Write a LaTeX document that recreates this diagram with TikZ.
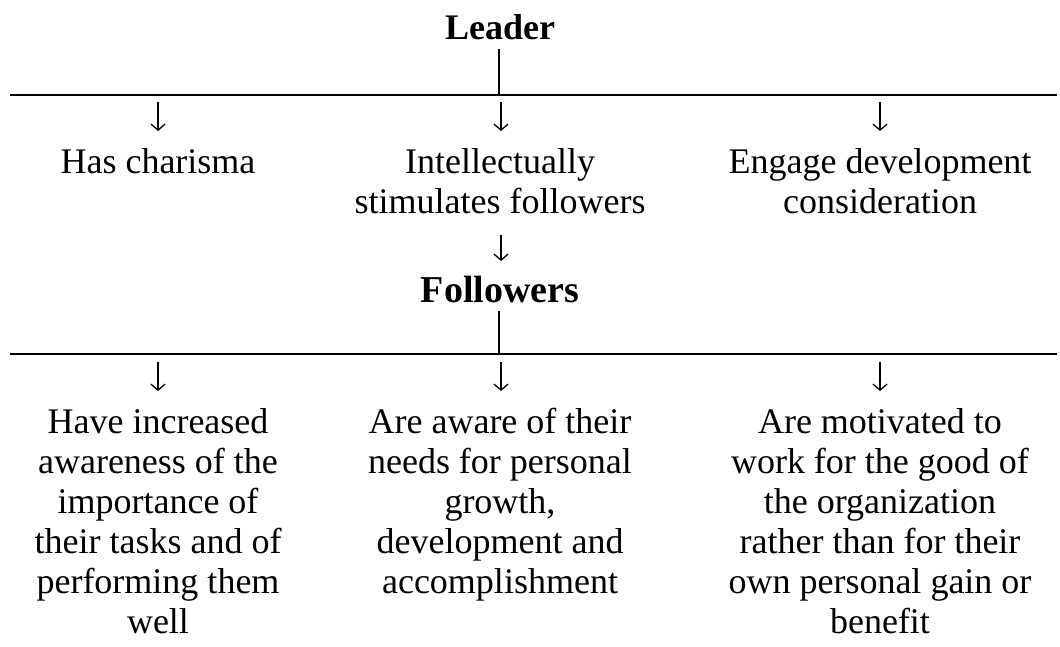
\documentclass[tikz,border=0pt]{standalone}
\usepackage{fontspec}
\setmainfont{Liberation Serif}
\usetikzlibrary{arrows.meta}
\begin{document}
\begin{tikzpicture}[x=1pt,y=-1pt,
  txt/.style={inner sep=0pt,align=center,anchor=base,font=\fontsize{36}{40}\selectfont},
  head/.style={inner sep=0pt,anchor=base,font=\fontsize{36}{40}\selectfont\bfseries},
  bar/.style={line width=2pt},
  stem/.style={line width=1.4pt},
  arr/.style={line width=1.3pt,-{Straight Barb[length=6pt,width=14pt,line width=1.3pt]}}]
\useasboundingbox (0,0) rectangle (1060,647);
% the base anchor of a multi-line node sits on its last line

% --- leader level ---
\node[head] (leader) at (500,40) {Leader};
\coordinate (j1) at (499,95);
\coordinate (l1) at (10,95);
\coordinate (r1) at (1057,95);
\draw[stem] (499,49) coordinate (s1) -- (j1);
\draw[bar] (l1) -- (r1);

\node[txt] (charisma) at (158,174) {Has charisma};
\node[txt] (stim) at (500,214) {Intellectually\\stimulates followers};
\node[txt] (engage) at (880,214) {Engage development\\consideration};

\foreach \x/\n in {158/a,501/b,880/c}{
  \coordinate (t\n) at (\x,102);
  \coordinate (e\n) at (\x,131);
  \draw[arr] (t\n) -- (e\n);
}

% --- followers level ---
\coordinate (m1) at (501,235);
\coordinate (m2) at (501,261);
\draw[arr] (m1) -- (m2);
\node[head,font=\fontsize{38}{40}\selectfont\bfseries] (followers) at (500,302) {Followers};
\coordinate (j2) at (499,354);
\coordinate (l2) at (10,354);
\coordinate (r2) at (1057,354);
\draw[stem] (499,311) coordinate (s2) -- (j2);
\draw[bar] (l2) -- (r2);

\foreach \x/\n in {158/d,501/e,880/f}{
  \coordinate (t\n) at (\x,362);
  \coordinate (e\n) at (\x,391);
  \draw[arr] (t\n) -- (e\n);
}

\node[txt] (aware) at (158,633) {Have increased\\awareness of the\\importance of\\their tasks and of\\performing them\\well};
\node[txt] (needs) at (500,593) {Are aware of their\\needs for personal\\growth,\\development and\\accomplishment};
\node[txt] (motiv) at (880,633) {Are motivated to\\work for the good of\\the organization\\rather than for their\\own personal gain or\\benefit};
\end{tikzpicture}
\end{document}
